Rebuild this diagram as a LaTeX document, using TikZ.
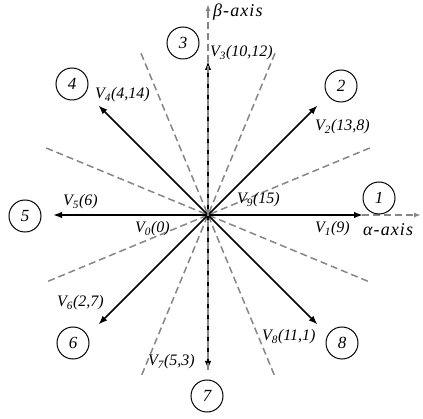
\documentclass[tikz,border=0pt]{standalone}
\usepackage{fontspec}
\setmainfont{Liberation Serif}
\usetikzlibrary{arrows.meta}
\begin{document}
\begin{tikzpicture}[x=1pt,y=-1pt,
  vec/.style={line width=1.6pt,black,-{Latex[length=9pt,width=6.5pt]}},
  greydash/.style={line width=1.5pt,draw=gray!95,dash pattern=on 7pt off 4pt},
  axisdash/.style={greydash,-{Latex[length=7pt,width=5pt]}},
  num/.style={circle,draw,line width=1pt,minimum size=32pt,inner sep=0pt,font=\fontsize{17}{19}\selectfont\itshape},
  lab/.style={anchor=west,inner sep=0pt,font=\fontsize{16}{18}\selectfont\itshape},
  axlab/.style={anchor=west,inner sep=0pt,font=\fontsize{18}{20}\selectfont\itshape\addfontfeature{LetterSpace=6}}]
\useasboundingbox (0,0) rectangle (423,419);
\coordinate (O) at (208,215);
% sector boundaries
\coordinate (a1) at (369.7,148); \coordinate (a2) at (46.3,282);
\coordinate (b1) at (275,53.3);  \coordinate (b2) at (141,376.7);
\coordinate (c1) at (141,53.3);  \coordinate (c2) at (275,376.7);
\coordinate (d1) at (46.3,148);  \coordinate (d2) at (369.7,282);
\draw[greydash] (a1) -- (a2);
\draw[greydash] (b1) -- (b2);
\draw[greydash] (c1) -- (c2);
\draw[greydash] (d1) -- (d2);
% alpha axis
\coordinate (AX) at (421,215);
\draw[axisdash] (O) -- (AX);
% vectors
\coordinate (T1) at (363,215);
\coordinate (T2) at (317.6,105.4);
\coordinate (T3) at (208,61);
\coordinate (T4) at (98.4,105.4);
\coordinate (T5) at (53,215);
\coordinate (T6) at (98.4,324.6);
\coordinate (T7) at (208,370);
\coordinate (T8) at (317.6,324.6);
\foreach \t in {T1,T2,T3,T4,T5,T6,T7,T8}{\draw[vec] (O) -- (\t);}
% beta axis
\coordinate (BX) at (208,4);
\draw[axisdash] (T7) -- (BX);
% sector numbers
\node[num] (n1) at (379,198) {1};
\node[num] (n2) at (341,86) {2};
\node[num] (n3) at (183,43) {3};
\node[num] (n4) at (72,84) {4};
\node[num] (n5) at (25,216) {5};
\node[num] (n6) at (73,343) {6};
\node[num] (n7) at (207,396) {7};
\node[num] (n8) at (342,343) {8};
% labels
\node[axlab] (lb) at (213,12) {β-axis};
\node[axlab] (la) at (363,230) {α-axis};
\node[lab] (l3) at (210,53) {V\textsubscript{3}(10,12)};
\node[lab] (l4) at (95,95) {V\textsubscript{4}(4,14)};
\node[lab] (l2) at (315,127) {V\textsubscript{2}(13,8)};
\node[lab] (l5) at (63,202) {V\textsubscript{5}(6)};
\node[lab] (l0) at (135,229) {V\textsubscript{0}(0)};
\node[lab] (l9) at (237,200) {V\textsubscript{9}(15)};
\node[lab] (l1) at (315,229) {V\textsubscript{1}(9)};
\node[lab] (l6) at (57,303) {V\textsubscript{6}(2,7)};
\node[lab] (l7) at (148,362) {V\textsubscript{7}(5,3)};
\node[lab] (l8) at (262,337) {V\textsubscript{8}(11,1)};
\end{tikzpicture}
\end{document}
